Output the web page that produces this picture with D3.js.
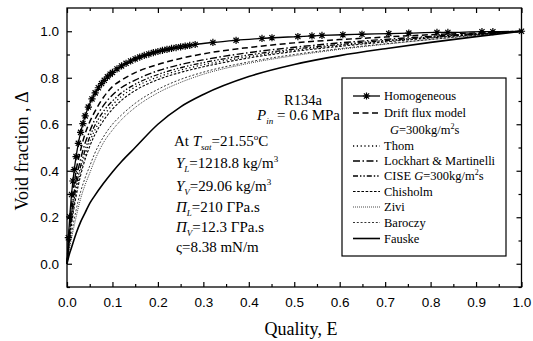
<!DOCTYPE html>
<html>
<head>
<meta charset="utf-8">
<script src="https://cdn.jsdelivr.net/npm/d3@7"></script>
<style>
  html, body { margin: 0; padding: 0; background: #fff; }
  svg { display: block; }
  .tick-label { font-family: "Liberation Sans", Arial, sans-serif; font-size: 13.5px; fill: #000; }
  .serif { font-family: "Liberation Serif", "Times New Roman", serif; fill: #000; }
</style>
</head>
<body>
<svg id="chart" width="533" height="341"></svg>
<script>
// Quality grid shared by the correlation curves
const quality = [0, 0.005, 0.01, 0.02, 0.03, 0.04, 0.05, 0.06, 0.08, 0.10, 0.12, 0.15,
                 0.20, 0.25, 0.30, 0.40, 0.50, 0.60, 0.70, 0.80, 0.90, 1.0];

// Void fraction predicted by each correlation
const driftFlux  = [0, 0.14, 0.25, 0.40, 0.49, 0.56, 0.61, 0.65, 0.715, 0.762, 0.79, 0.822, 0.857, 0.883, 0.903, 0.930, 0.950, 0.964, 0.975, 0.985, 0.993, 1];
const lockhart   = [0, 0.12, 0.22, 0.36, 0.45, 0.52, 0.57, 0.615, 0.68, 0.726, 0.758, 0.79, 0.83, 0.857, 0.877, 0.908, 0.931, 0.950, 0.965, 0.978, 0.990, 1];
const cise       = [0, 0.11, 0.20, 0.33, 0.42, 0.49, 0.545, 0.59, 0.655, 0.700, 0.735, 0.772, 0.814, 0.843, 0.865, 0.898, 0.923, 0.943, 0.960, 0.975, 0.988, 1];
const thom       = [0, 0.10, 0.185, 0.31, 0.40, 0.47, 0.525, 0.57, 0.635, 0.683, 0.72, 0.76, 0.803, 0.833, 0.856, 0.891, 0.918, 0.939, 0.957, 0.973, 0.987, 1];
const chisholm   = [0, 0.09, 0.17, 0.29, 0.38, 0.45, 0.505, 0.55, 0.615, 0.665, 0.703, 0.745, 0.792, 0.823, 0.847, 0.885, 0.913, 0.935, 0.954, 0.971, 0.986, 1];
const zivi       = [0, 0.06, 0.11, 0.20, 0.28, 0.34, 0.39, 0.44, 0.52, 0.575, 0.62, 0.672, 0.735, 0.78, 0.815, 0.862, 0.895, 0.922, 0.944, 0.964, 0.982, 1];
const baroczy    = [0, 0.07, 0.13, 0.23, 0.31, 0.37, 0.42, 0.47, 0.545, 0.60, 0.64, 0.69, 0.75, 0.793, 0.824, 0.868, 0.900, 0.925, 0.946, 0.965, 0.983, 1];
const fauske     = [0, 0.04, 0.07, 0.13, 0.18, 0.22, 0.26, 0.29, 0.345, 0.395, 0.44, 0.50, 0.60, 0.675, 0.728, 0.805, 0.857, 0.895, 0.925, 0.952, 0.977, 1];

// Homogeneous model, sampled at its own (denser) qualities
const homoQuality = [0, 0.003, 0.006, 0.01, 0.013, 0.016, 0.02, 0.025, 0.03, 0.035, 0.04, 0.047, 0.055, 0.062,
                     0.069, 0.076, 0.082, 0.089, 0.095, 0.10, 0.11, 0.12, 0.13, 0.14, 0.15, 0.16, 0.17, 0.18,
                     0.19, 0.20, 0.21, 0.22, 0.23, 0.24, 0.25, 0.26, 0.27, 0.282, 0.321, 0.372, 0.429, 0.451,
                     0.508, 0.539, 0.561, 0.607, 0.649, 0.708, 0.752, 0.814, 0.838, 0.913, 0.937, 1.0];
const homoVoid    = [0, 0.112, 0.202, 0.298, 0.356, 0.405, 0.461, 0.518, 0.565, 0.603, 0.636, 0.674, 0.709, 0.735,
                     0.757, 0.775, 0.789, 0.804, 0.815, 0.823, 0.838, 0.851, 0.862, 0.872, 0.881, 0.889, 0.896, 0.902,
                     0.908, 0.913, 0.918, 0.922, 0.926, 0.930, 0.933, 0.936, 0.939, 0.943, 0.952, 0.961, 0.969, 0.972,
                     0.977, 0.980, 0.982, 0.985, 0.987, 0.990, 0.992, 0.995, 0.995, 0.998, 0.998, 1.0];

// Axis ticks
const xMajor = [0, 0.1, 0.2, 0.3, 0.4, 0.5, 0.6, 0.7, 0.8, 0.9, 1.0];
const xMinor = [0.05, 0.15, 0.25, 0.35, 0.45, 0.55, 0.65, 0.75, 0.85, 0.95];
const yMajor = [0, 0.2, 0.4, 0.6, 0.8, 1.0];
const yMinor = [-0.1, 0.1, 0.3, 0.5, 0.7, 0.9];

// Legend entries
const legendNames = ["Homogeneous", "Drift flux model", "Thom", "Lockhart & Martinelli",
                     "CISE G=300kg/m²s", "Chisholm", "Zivi", "Baroczy", "Fauske"];

const svg = d3.select("#chart");
const W = 533, H = 341;
svg.append("rect").attr("width", W).attr("height", H).attr("fill", "#fff");

const plot = { left: 67, right: 521.5, top: 8, bottom: 287 };
const x = d3.scaleLinear().domain([0, 1]).range([plot.left, plot.right]);
const y = d3.scaleLinear().domain([-0.1, 1.1]).range([plot.bottom, plot.top]);

const styles = {
  drift:    { dash: "6,3.5", width: 1.5 },
  thom:     { dash: "1.2,2.6", width: 1.3 },
  lockhart: { dash: "7,2.5,1.5,2.5", width: 1.4 },
  cise:     { dash: "5,2,1.4,2,1.4,2", width: 1.3 },
  chisholm: { dash: "2.6,1.6", width: 1.1 },
  zivi:     { dash: "0.9,1.1", width: 0.8 },
  baroczy:  { dash: "2,1.8", width: 0.8 },
  fauske:   { dash: null, width: 1.6 }
};

const series = [
  { key: "fauske", values: fauske },
  { key: "baroczy", values: baroczy },
  { key: "zivi", values: zivi },
  { key: "chisholm", values: chisholm },
  { key: "thom", values: thom },
  { key: "cise", values: cise },
  { key: "lockhart", values: lockhart },
  { key: "drift", values: driftFlux }
];

const line = d3.line()
  .x(d => x(d[0]))
  .y(d => y(d[1]))
  .curve(d3.curveMonotoneX);

const gLines = svg.append("g");
series.forEach(s => {
  const st = styles[s.key];
  gLines.append("path")
    .datum(quality.map((q, i) => [q, s.values[i]]))
    .attr("d", line)
    .attr("fill", "none")
    .attr("stroke", "#000")
    .attr("stroke-width", st.width)
    .attr("stroke-dasharray", st.dash);
});

// Homogeneous line with star markers
const homoPts = homoQuality.map((q, i) => [q, homoVoid[i]]);
gLines.append("path")
  .datum(homoPts)
  .attr("d", line)
  .attr("fill", "none")
  .attr("stroke", "#000")
  .attr("stroke-width", 1.3);

function starPath(r) {
  const d = r * 0.72;
  return `M${-r},0L${r},0M0,${-r}L0,${r}M${-d},${-d}L${d},${d}M${-d},${d}L${d},${-d}`;
}
gLines.selectAll(".star")
  .data(homoPts.slice(1))
  .join("path")
  .attr("class", "star")
  .attr("transform", d => `translate(${x(d[0])},${y(d[1])})`)
  .attr("d", starPath(3.6))
  .attr("fill", "none")
  .attr("stroke", "#000")
  .attr("stroke-width", 1.2);

// Frame
svg.append("rect")
  .attr("x", plot.left).attr("y", plot.top)
  .attr("width", plot.right - plot.left).attr("height", plot.bottom - plot.top)
  .attr("fill", "none").attr("stroke", "#000").attr("stroke-width", 1.3);

// Inward ticks on all four sides
const fmt = d3.format(".1f");
const axB = d3.axisBottom(x).tickValues(xMajor).tickSize(-5).tickFormat(fmt).tickPadding(10);
const axBm = d3.axisBottom(x).tickValues(xMinor).tickSize(-3).tickFormat("");
const axT = d3.axisTop(x).tickValues(xMajor).tickSize(-5).tickFormat("");
const axTm = d3.axisTop(x).tickValues(xMinor).tickSize(-3).tickFormat("");
const axL = d3.axisLeft(y).tickValues(yMajor).tickSize(-5).tickFormat(fmt).tickPadding(8);
const axLm = d3.axisLeft(y).tickValues(yMinor).tickSize(-3).tickFormat("");
const axR = d3.axisRight(y).tickValues(yMajor).tickSize(-5).tickFormat("");
const axRm = d3.axisRight(y).tickValues(yMinor).tickSize(-3).tickFormat("");

function addAxis(ax, tx, ty) {
  const g = svg.append("g").attr("transform", `translate(${tx},${ty})`).call(ax);
  g.select(".domain").remove();
  g.selectAll(".tick line").attr("stroke", "#000").attr("stroke-width", 1.2);
  g.selectAll(".tick text").attr("class", "tick-label").attr("font-size", null).attr("font-family", null);
  return g;
}
addAxis(axB, 0, plot.bottom);
addAxis(axBm, 0, plot.bottom);
addAxis(axT, 0, plot.top);
addAxis(axTm, 0, plot.top);
addAxis(axL, plot.left, 0);
addAxis(axLm, plot.left, 0);
addAxis(axR, plot.right, 0);
addAxis(axRm, plot.right, 0);

// Axis titles
svg.append("text").attr("class", "serif")
  .attr("x", 301).attr("y", 334.5)
  .attr("text-anchor", "middle").attr("font-size", 18)
  .text("Quality, E");
svg.append("text").attr("class", "serif")
  .attr("transform", "translate(28,151) rotate(-90)")
  .attr("text-anchor", "middle").attr("font-size", 18)
  .text("Void fraction , Δ");

// Fluid property annotations
const ann = svg.append("g").attr("class", "serif").attr("font-size", 15);
ann.append("text").attr("x", 284).attr("y", 104.5).attr("font-size", 14.5).text("R134a");
function subText(xp, yp, main, sub, rest, italicMain) {
  const t = ann.append("text").attr("x", xp).attr("y", yp);
  t.append("tspan").attr("font-style", italicMain ? "italic" : null).text(main);
  t.append("tspan").attr("font-size", 9).attr("font-style", "italic").attr("dy", 4).text(sub);
  t.append("tspan").attr("dy", -4).text(rest);
  return t;
}
subText(257, 120, "P", "in", " = 0.6 MPa", true);
{
  const t = ann.append("text").attr("x", 174).attr("y", 146);
  t.append("tspan").text("At ");
  t.append("tspan").attr("font-style", "italic").text("T");
  t.append("tspan").attr("font-size", 9).attr("font-style", "italic").attr("dy", 4).text("sat");
  t.append("tspan").attr("dy", -4).text("=21.55");
  t.append("tspan").attr("font-size", 9).attr("dy", -6).text("o");
  t.append("tspan").attr("dy", 6).text("C");
}
{
  const t = subText(176, 168, "Y", "L", "=1218.8 kg/m", true);
  t.append("tspan").attr("font-size", 9).attr("dy", -6).text("3");
}
{
  const t = subText(176, 191, "Y", "V", "=29.06 kg/m", true);
  t.append("tspan").attr("font-size", 9).attr("dy", -6).text("3");
}
subText(176, 212, "Π", "L", "=210 ΓPa.s", true);
subText(176, 232, "Π", "V", "=12.3 ΓPa.s", true);
ann.append("text").attr("x", 176).attr("y", 252).text("ς=8.38 mN/m");

// Legend
const lg = svg.append("g");
lg.append("rect").attr("x", 342).attr("y", 78).attr("width", 164).attr("height", 178)
  .attr("fill", "#fff").attr("stroke", "#000").attr("stroke-width", 1.2);

const legendKeys = ["homo", "drift", "thom", "lockhart", "cise", "chisholm", "zivi", "baroczy", "fauske"];
const legendRowY = [96, 113, 146, 161, 176, 191.5, 207, 222.5, 238.5];
const lx0 = 353, lx1 = 380, ltx = 384;
legendKeys.forEach((k, i) => {
  const yy = legendRowY[i];
  const ln = lg.append("line").attr("x1", lx0).attr("x2", lx1).attr("y1", yy).attr("y2", yy)
    .attr("stroke", "#000");
  if (k === "homo") {
    ln.attr("stroke-width", 1.3);
    lg.append("path").attr("transform", `translate(${(lx0 + lx1) / 2},${yy})`)
      .attr("d", starPath(3.6)).attr("fill", "none").attr("stroke", "#000").attr("stroke-width", 1.2);
  } else {
    ln.attr("stroke-width", styles[k].width).attr("stroke-dasharray", styles[k].dash);
  }
  const t = lg.append("text").attr("class", "serif").attr("font-size", 12.5)
    .attr("x", ltx).attr("y", yy + 4.3);
  if (k === "cise") {
    t.append("tspan").text("CISE ");
    t.append("tspan").attr("font-style", "italic").text("G");
    t.append("tspan").text("=300kg/m");
    t.append("tspan").attr("font-size", 8).attr("dy", -5).text("2");
    t.append("tspan").attr("dy", 5).text("s");
  } else {
    t.text(legendNames[i]);
  }
});
{
  const t = lg.append("text").attr("class", "serif").attr("font-size", 12.5)
    .attr("x", 390).attr("y", 129.5 + 4.3);
  t.append("tspan").attr("font-style", "italic").text("G");
  t.append("tspan").text("=300kg/m");
  t.append("tspan").attr("font-size", 8).attr("dy", -5).text("2");
  t.append("tspan").attr("dy", 5).text("s");
}
</script>
</body>
</html>
